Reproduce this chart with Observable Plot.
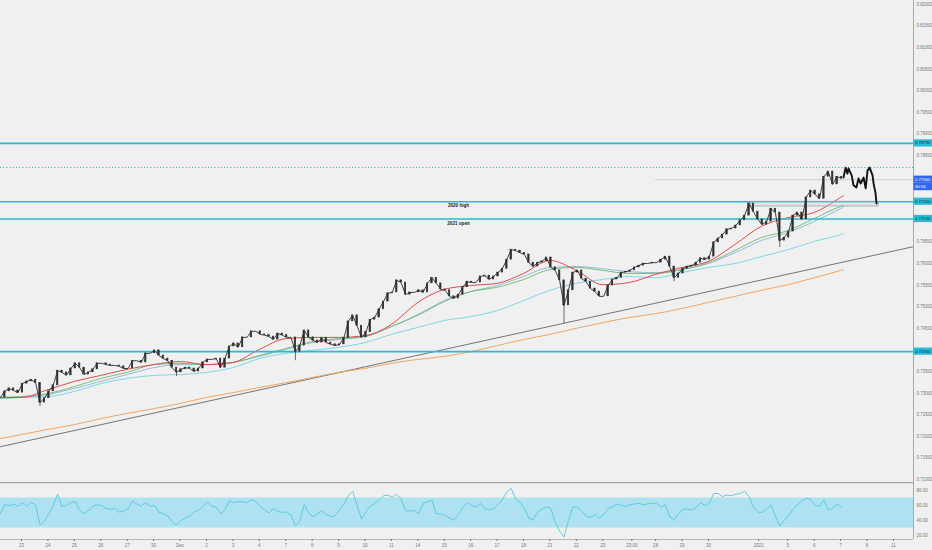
<!DOCTYPE html>
<html><head><meta charset="utf-8">
<script src="https://cdn.jsdelivr.net/npm/d3@7"></script>
<script src="https://cdn.jsdelivr.net/npm/@observablehq/plot@0.6"></script>
<style>
html,body{margin:0;padding:0;background:#f0f0f0;}
#chart svg{display:block;}
</style></head><body><div id="chart"></div>
<script>
// ---- data (time in trading days from Nov 23) ----
const barStartDay = -0.8;
const barsPerDay = 6;
const closes = [
0.7290,0.7304,0.7311,0.7306,0.7301,0.7322,0.7327,0.7331,0.7324,0.7278,
0.7288,0.7304,0.7318,0.7352,0.7348,0.7341,0.7357,0.7369,0.7359,0.7343,
0.7348,0.7355,0.7369,0.7369,0.7366,0.7364,0.7364,0.7362,0.7357,0.7357,
0.7375,0.7375,0.7371,0.7392,0.7392,0.7399,0.7387,0.7380,0.7375,0.7359,
0.7348,0.7355,0.7359,0.7357,0.7350,0.7357,0.7371,0.7378,0.7378,0.7380,
0.7359,0.7380,0.7408,0.7415,0.7406,0.7429,0.7429,0.7443,0.7443,0.7436,
0.7434,0.7431,0.7424,0.7438,0.7434,0.7429,0.7429,0.7396,0.7410,0.7445,
0.7429,0.7422,0.7417,0.7427,0.7417,0.7413,0.7410,0.7413,0.7427,0.7466,
0.7480,0.7456,0.7429,0.7441,0.7470,0.7475,0.7494,0.7512,0.7531,0.7533,
0.7561,0.7556,0.7528,0.7533,0.7533,0.7538,0.7533,0.7554,0.7567,0.7554,
0.7540,0.7538,0.7524,0.7519,0.7528,0.7545,0.7558,0.7556,0.7556,0.7570,
0.7572,0.7563,0.7570,0.7579,0.7588,0.7609,0.7632,0.7630,0.7625,0.7621,
0.7602,0.7593,0.7602,0.7605,0.7614,0.7591,0.7584,0.7561,0.7503,0.7538,
0.7579,0.7584,0.7565,0.7558,0.7542,0.7535,0.7524,0.7524,0.7549,0.7563,
0.7567,0.7579,0.7581,0.7584,0.7591,0.7595,0.7600,0.7600,0.7602,0.7602,
0.7609,0.7616,0.7593,0.7567,0.7577,0.7588,0.7593,0.7595,0.7602,0.7612,
0.7609,0.7616,0.7649,0.7658,0.7667,0.7679,0.7681,0.7688,0.7700,0.7711,
0.7739,0.7720,0.7702,0.7690,0.7697,0.7727,0.7718,0.7653,0.7660,0.7674,
0.7711,0.7718,0.7702,0.7753,0.7769,0.7760,0.7750,0.7801,0.7813,0.7783,
0.7801,0.7797];
const spikeBars = [9, 40, 67, 128, 153, 177];
const spikeLows = [0.7269, 0.7338, 0.7375, 0.7461, 0.7558, 0.7637];

// projected bars pattern (drawing)
const projDays = [31.11,31.19,31.26,31.30,31.42,31.49,31.60,31.68,31.76,31.87,31.95,32.02,32.10,32.21,32.25,32.32,32.36];
const projPrices = [0.7799,0.7822,0.7808,0.7820,0.7804,0.7781,0.7776,0.7797,0.7785,0.7799,0.7774,0.7815,0.7822,0.7804,0.7785,0.7764,0.7739];

// moving averages sampled per day
const maDays = [-0.8,0,1,2,3,4,5,6,7,8,9,10,11,12,13,14,15,16,17,18,19,20,21,22,23,24,25,26,27,28,29,30,31,31.1];
const maRed = [0.7290,0.7290,0.7308,0.7327,0.7341,0.7355,0.7366,0.7373,0.7366,0.7371,0.7401,0.7426,0.7429,0.7429,0.7433,0.7459,0.7510,0.7540,0.7549,0.7554,0.7577,0.7607,0.7584,0.7551,0.7556,0.7575,0.7591,0.7605,0.7644,0.7686,0.7706,0.7718,0.7753,0.7757];
const maGreen = [0.7290,0.7292,0.7299,0.7315,0.7334,0.7348,0.7366,0.7369,0.7366,0.7371,0.7387,0.7403,0.7419,0.7426,0.7431,0.7454,0.7480,0.7512,0.7535,0.7545,0.7563,0.7586,0.7591,0.7584,0.7577,0.7577,0.7586,0.7602,0.7630,0.7660,0.7676,0.7704,0.7732,0.7734];
const maSteel = [0.7288,0.7290,0.7297,0.7311,0.7327,0.7343,0.7359,0.7366,0.7366,0.7371,0.7385,0.7401,0.7417,0.7424,0.7431,0.7454,0.7482,0.7514,0.7535,0.7549,0.7570,0.7591,0.7593,0.7588,0.7581,0.7579,0.7586,0.7600,0.7625,0.7653,0.7672,0.7697,0.7727,0.7730];
const maCyan = [0.7288,0.7290,0.7292,0.7304,0.7322,0.7334,0.7341,0.7343,0.7348,0.7359,0.7380,0.7392,0.7399,0.7406,0.7417,0.7436,0.7452,0.7468,0.7477,0.7491,0.7514,0.7538,0.7554,0.7563,0.7570,0.7567,0.7579,0.7591,0.7600,0.7616,0.7632,0.7651,0.7667,0.7669];
const maOrange = [0.7195,0.7204,0.7216,0.7227,0.7241,0.7253,0.7264,0.7276,0.7290,0.7301,0.7313,0.7324,0.7336,0.7348,0.7357,0.7369,0.7378,0.7385,0.7396,0.7410,0.7424,0.7436,0.7450,0.7463,0.7475,0.7484,0.7496,0.7510,0.7524,0.7538,0.7551,0.7567,0.7584,0.7586];

// trend line drawing
const trendDays = [-0.795, 33.76];
const trendPrices = [0.7176, 0.7639];

// horizontal levels
const levels = [0.78780, 0.77430, 0.77030, 0.73960];
const levelNotes = ["", "2020 high", "2021 open", ""];
const noteDay = 16.54;
const dottedLevel = 0.78222;
const lastPrice = 0.77940;
const countdown = "40:56";
const priceLineStart = 24.0;
const boxZone = {t1: 27.59, t2: 32.44, lo: 0.77320, hi: 0.77430};

// RSI per bar
const rsi = [
49,61,60,62,59,64,59,64,61,34,39,49,60,75,59,60,64,65,54,49,
53,59,61,60,56,55,56,51,53,56,66,62,59,64,59,60,51,49,46,38,
34,40,43,46,51,54,59,65,59,58,49,54,66,64,65,65,64,68,65,59,
54,50,56,52,51,51,47,33,39,61,50,45,49,53,48,45,46,54,62,73,
79,60,42,52,59,63,67,73,74,71,75,69,53,53,53,49,63,65,67,49,
49,47,43,41,48,57,64,60,58,63,56,54,56,61,68,78,83,69,64,56,
43,41,51,55,58,56,38,26,18,40,58,58,53,46,44,48,43,48,56,58,
62,60,59,61,62,63,61,62,63,63,58,61,45,41,49,55,55,54,57,64,
60,63,76,76,72,74,73,75,76,79,72,58,51,51,55,61,46,33,40,46,
55,61,66,70,68,60,59,67,54,56,62,58];
const rsiBand = {lo: 30, hi: 70};
const rsiTicks = [20, 40, 60, 80];

// time axis labels
const tickPos = [0,1,2,3,4,5,6,7,8,9,10,11,12,13,14,15,16,17,18,19,20,21,22,23.1,24,25,26,27.9,29,30,31,32,33];
const tickLabels = ["23","24","25","26","27","30","Dec","2","3","4","7","8","9","10","11","14","15","16","17","18","21","22","23","23:00","28","29","30","2021","5","6","7","8","11"];

// ---- build ----
const xDomain = [-0.795, 33.76];
const yDomain = [0.70931, 0.82088];
const rsiDomain = [14.67, 90.67];
const tagValues = levels.concat([lastPrice]);
const yTicks = d3.range(0.710, 0.8201, 0.005).filter(t => tagValues.every(v => Math.abs(t - v) > 0.0016));
const font = "'Liberation Sans', Arial, sans-serif";

const bars = closes.map((c, i) => {
  const o = i > 0 ? closes[i - 1] : c;
  const k = spikeBars.indexOf(i);
  const lo = Math.min(o, c, k >= 0 ? spikeLows[k] : c);
  return {t: barStartDay + i / barsPerDay, o, c, h: Math.max(o, c), l: lo};
});
const maLine = (vals) => vals.map((v, i) => ({t: maDays[i], v}));
const tickMap = new Map(tickPos.map((p, i) => [p, tickLabels[i]]));
const cyanLevel = "#27bcd3";
const candleInk = "#2e2e2e";

const main = Plot.plot({
  width: 932, height: 482,
  marginLeft: 0, marginRight: 19, marginTop: 0, marginBottom: 0,
  style: {background: "#f0f0f0", fontFamily: font},
  x: {domain: xDomain, axis: null},
  y: {domain: yDomain, axis: null},
  marks: [
    Plot.ruleY([dottedLevel], {stroke: "#1fb9c2", strokeWidth: 1.2, strokeDasharray: "1,2.2"}),
    Plot.ruleY([lastPrice], {x1: () => priceLineStart, x2: () => xDomain[1], stroke: "#c4c4c4", strokeWidth: 0.8}),
    Plot.line(trendDays.map((t, i) => ({t, v: trendPrices[i]})), {x: "t", y: "v", stroke: "#555", strokeWidth: 0.8}),
    Plot.line(maLine(maOrange), {x: "t", y: "v", stroke: "#f3a461", strokeWidth: 1, curve: "monotone-x"}),
    Plot.line(maLine(maCyan), {x: "t", y: "v", stroke: "#7fd6e6", strokeWidth: 1, curve: "monotone-x"}),
    Plot.line(maLine(maSteel), {x: "t", y: "v", stroke: "#8fb1d8", strokeWidth: 0.9, curve: "monotone-x"}),
    Plot.line(maLine(maGreen), {x: "t", y: "v", stroke: "#6cb86c", strokeWidth: 0.9, curve: "monotone-x"}),
    Plot.line(maLine(maRed), {x: "t", y: "v", stroke: "#e2494b", strokeWidth: 1, curve: "monotone-x"}),
    Plot.ruleY(levels, {stroke: cyanLevel, strokeWidth: 1.6}),
    Plot.rect([boxZone], {x1: "t1", x2: "t2", y1: "lo", y2: "hi", fill: "#c9d2da", fillOpacity: 0.35, stroke: "#8d9aa6", strokeWidth: 0.7}),
    Plot.line(bars, {x: "t", y: "c", stroke: candleInk, strokeWidth: 0.9}),
    Plot.ruleX(bars, {x: "t", y1: "l", y2: "h", stroke: candleInk, strokeWidth: 0.7}),
    Plot.rect(bars, {x1: d => d.t - 0.028, x2: d => d.t + 0.028, y1: "o", y2: "c",
      fill: candleInk, stroke: candleInk, strokeWidth: 0.5}),
    Plot.line(projDays.map((t, i) => ({t, v: projPrices[i]})), {x: "t", y: "v", stroke: "#111", strokeWidth: 1.9}),
    Plot.text(levels.map((v, i) => ({v, s: levelNotes[i]})).filter(d => d.s), {x: () => noteDay, y: "v", text: "s", dy: 4.2, fontSize: 4.6, fontWeight: 700, fill: "#222"}),
    Plot.ruleX([xDomain[1]], {stroke: "#a8a8a8", strokeWidth: 1}),
    Plot.axisY({anchor: "right", ticks: yTicks, tickFormat: d3.format(".5f"), tickSize: 0, tickPadding: 3, fontSize: 4.5, color: "#777", label: null})
  ]
});

// right-axis highlighted labels using the plot's own y scale
const sy = main.scale("y");
const ms = d3.select(main);
const tagX = 913.5, tagW = 18.5;
function tag(v, text, bg, fg, offset) {
  const yy = sy.apply(v) + (offset || 0);
  ms.append("rect").attr("x", tagX).attr("y", yy - 3.6).attr("width", tagW).attr("height", 7.2).attr("fill", bg);
  ms.append("text").attr("x", tagX + 1.4).attr("y", yy + 1.5).attr("font-size", 4.3)
    .attr("text-anchor", "start").attr("font-family", font).attr("fill", fg).text(text);
}
levels.forEach(v => tag(v, d3.format(".5f")(v), cyanLevel, "#0b3a44"));
tag(lastPrice, d3.format(".5f")(lastPrice), "#2f66f0", "#fff");
tag(lastPrice, countdown, "#2f66f0", "#fff", 7.4);

const rsiPlot = Plot.plot({
  width: 932, height: 68,
  marginLeft: 0, marginRight: 19, marginTop: 0, marginBottom: 11,
  style: {background: "#f0f0f0", fontFamily: font},
  x: {domain: xDomain, axis: null},
  y: {domain: rsiDomain, axis: null},
  marks: [
    Plot.rect([rsiBand], {x1: () => xDomain[0], x2: () => xDomain[1], y1: "lo", y2: "hi", fill: "#afe2f0"}),
    Plot.line(rsi.map((v, i) => ({t: barStartDay + i / barsPerDay, v})), {x: "t", y: "v", stroke: "#52c6e2", strokeWidth: 0.9}),
    Plot.ruleY([rsiDomain[1]], {stroke: "#a9a9a9", strokeWidth: 1.6}),
    Plot.ruleY([rsiDomain[0]], {stroke: "#b8b8b8", strokeWidth: 1.2}),
    Plot.ruleX([xDomain[1]], {stroke: "#a8a8a8", strokeWidth: 1}),
    Plot.axisY({anchor: "right", ticks: rsiTicks, tickFormat: d3.format(".2f"), tickSize: 0, tickPadding: 3, fontSize: 4.5, color: "#777", label: null}),
    Plot.axisX({anchor: "bottom", ticks: tickPos, tickFormat: d => tickMap.get(d), tickSize: 2, tickPadding: 2.5, fontSize: 4.5, color: "#777", label: null})
  ]
});

const host = document.getElementById("chart");
host.appendChild(main);
host.appendChild(rsiPlot);
</script>
</body></html>
